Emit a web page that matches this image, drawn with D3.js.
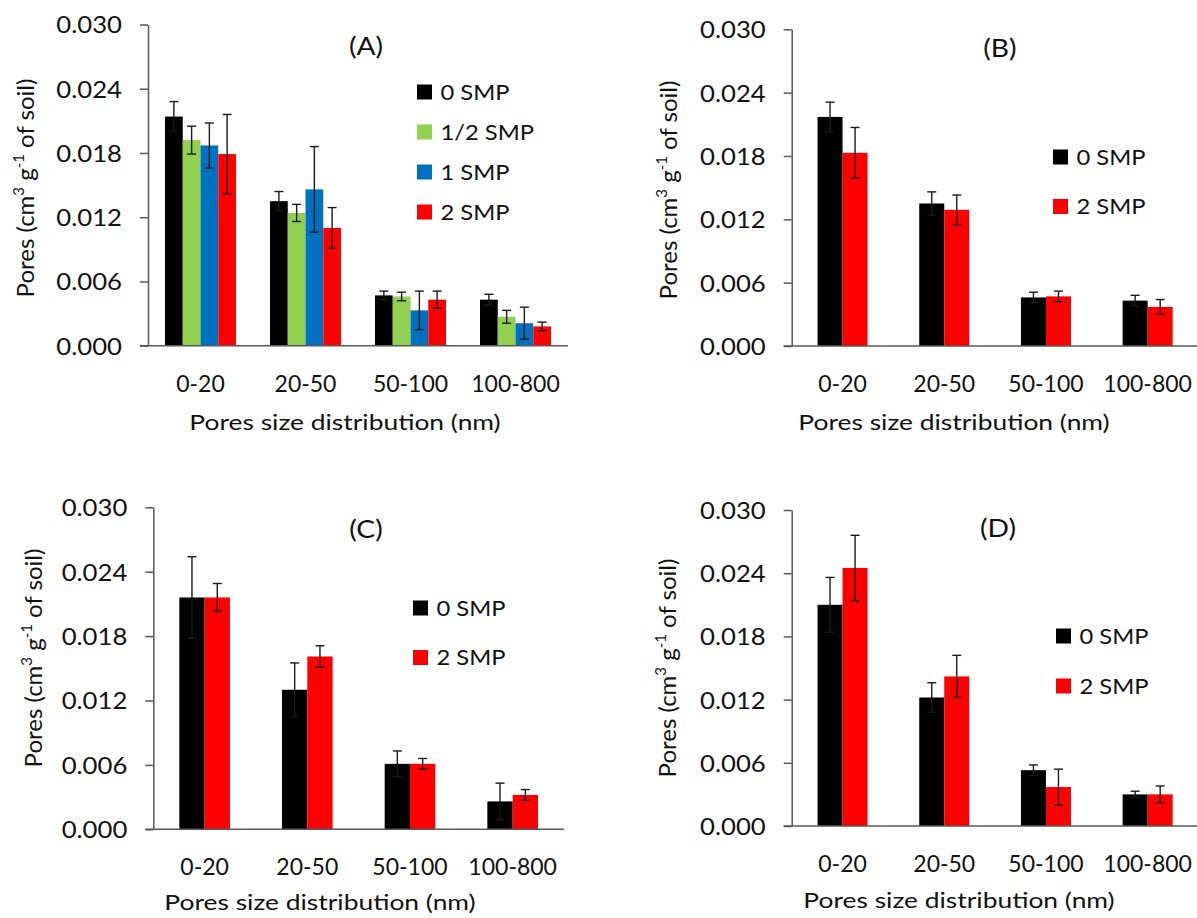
<!DOCTYPE html>
<html>
<head>
<meta charset="utf-8">
<script src="https://cdn.jsdelivr.net/npm/d3@7"></script>
<style>
  body { margin: 0; background: #fff; }
  svg text { font-family: Lato, "Open Sans", sans-serif; fill: #111; }
</style>
</head>
<body>
<svg id="chart" width="1197" height="918"></svg>
<script>
// categories and series
var categories = ["0-20", "20-50", "50-100", "100-800"];
var seriesFour = ["0 SMP", "1/2 SMP", "1 SMP", "2 SMP"];
var seriesTwo = ["0 SMP", "2 SMP"];
var seriesColors = ["#000000", "#92D050", "#0070C0", "#FF0000"];
var yTicks = [0, 0.006, 0.012, 0.018, 0.024, 0.030];

// (A) one row per series, one value per category
var valuesA = [
	[0.0214, 0.0135, 0.0047, 0.0043],
	[0.0192, 0.0124, 0.0046, 0.0027],
	[0.0187, 0.0146, 0.0033, 0.0021],
	[0.0179, 0.0110, 0.0043, 0.0018]
];
var errorsA = [
	[0.0014, 0.0009, 0.0004, 0.0005],
	[0.0013, 0.0008, 0.0004, 0.0006],
	[0.0021, 0.0040, 0.0018, 0.0015],
	[0.0037, 0.0019, 0.0008, 0.0004]
];

// (B)
var valuesB = [
	[0.0217, 0.0135, 0.0046, 0.0043],
	[0.0183, 0.0129, 0.0047, 0.0037]
];
var errorsB = [
	[0.0014, 0.0011, 0.0005, 0.0005],
	[0.0024, 0.0014, 0.0005, 0.0007]
];

// (C)
var valuesC = [
	[0.0216, 0.0130, 0.0061, 0.0026],
	[0.0216, 0.0161, 0.0061, 0.0032]
];
var errorsC = [
	[0.0038, 0.0025, 0.0012, 0.0017],
	[0.0013, 0.0010, 0.0005, 0.0005]
];

// (D)
var valuesD = [
	[0.0210, 0.0122, 0.0053, 0.0030],
	[0.0245, 0.0142, 0.0037, 0.0030]
];
var errorsD = [
	[0.0026, 0.0014, 0.0005, 0.0003],
	[0.0031, 0.0020, 0.0017, 0.0008]
];

// layout of each panel (pixels)
var panels = [
	{ label: "(A)", series: seriesFour, colors: seriesColors, values: valuesA, errors: errorsA,
		left: 148, right: 568, top: 24.5, bottom: 345.7, pad: 0.324,
		titleX: 366, titleY: 46, legX: 417, legRows: [92, 132, 172, 212],
		xTitleX: 345, xTitleY: 430, yTitleX: 26, yTitleY: 188 },
	{ label: "(B)", series: seriesTwo, colors: ["#000000", "#FF0000"], values: valuesB, errors: errorsB,
		left: 791.7, right: 1198.5, top: 29.3, bottom: 346, pad: 0.508,
		titleX: 1000, titleY: 48, legX: 1053, legRows: [157, 206.5],
		xTitleX: 954, xTitleY: 430, yTitleX: 669, yTitleY: 190 },
	{ label: "(C)", series: seriesTwo, colors: ["#000000", "#FF0000"], values: valuesC, errors: errorsC,
		left: 153.3, right: 564, top: 507.3, bottom: 829.3, pad: 0.507,
		titleX: 366, titleY: 529, legX: 413, legRows: [608, 657.5],
		xTitleX: 320, xTitleY: 910, yTitleX: 33.5, yTitleY: 658 },
	{ label: "(D)", series: seriesTwo, colors: ["#000000", "#FF0000"], values: valuesD, errors: errorsD,
		left: 791.7, right: 1198.5, top: 510, bottom: 826, pad: 0.508,
		titleX: 998, titleY: 528, legX: 1056, legRows: [636, 686],
		xTitleX: 959, xTitleY: 908, yTitleX: 668, yTitleY: 668 }
];

var svg = d3.select("#chart");
var axisColor = "#595959";

// text is a little wider in the source figure, so some labels are scaled sideways
function place(sel, x, y, sx){
	return sel.attr("transform", "translate(" + x + "," + y + ") scale(" + sx + ",1)");
}

function drawPanel(p){
	var g = svg.append("g").attr("class", "panel");

	var x = d3.scaleBand()
		.domain(categories)
		.range([p.left, p.right])
		.paddingInner(p.pad)
		.paddingOuter(p.pad / 2);
	var xs = d3.scaleBand()
		.domain(p.series)
		.range([0, x.bandwidth()]);
	var y = d3.scaleLinear()
		.domain([0, 0.030])
		.range([p.bottom, p.top]);

	// bars
	p.series.forEach(function(s, si){
		var rows = categories.map(function(c, ci){
			return { cat: c, v: p.values[si][ci], e: p.errors[si][ci] };
		});
		var sg = g.append("g");
		sg.selectAll("rect")
			.data(rows)
			.join("rect")
			.attr("x", d => x(d.cat) + xs(s))
			.attr("y", d => y(d.v))
			.attr("width", xs.bandwidth())
			.attr("height", d => y(0) - y(d.v))
			.attr("fill", p.colors[si]);

		// error bars
		var cap = 4.5;
		var mid = d => x(d.cat) + xs(s) + xs.bandwidth() / 2;
		var eb = sg.selectAll("g.err")
			.data(rows)
			.join("g")
			.attr("class", "err")
			.attr("stroke", "#1a1a1a")
			.attr("stroke-width", 1.4);
		eb.append("line")
			.attr("x1", mid)
			.attr("x2", mid)
			.attr("y1", d => y(d.v + d.e))
			.attr("y2", d => y(Math.max(0, d.v - d.e)));
		eb.append("line")
			.attr("x1", d => mid(d) - cap)
			.attr("x2", d => mid(d) + cap)
			.attr("y1", d => y(d.v + d.e))
			.attr("y2", d => y(d.v + d.e));
		eb.append("line")
			.attr("x1", d => mid(d) - cap)
			.attr("x2", d => mid(d) + cap)
			.attr("y1", d => y(Math.max(0, d.v - d.e)))
			.attr("y2", d => y(Math.max(0, d.v - d.e)));
	});

	// y axis
	var yAxis = g.append("g")
		.attr("transform", "translate(" + p.left + ",0)")
		.call(d3.axisLeft(y)
			.tickValues(yTicks)
			.tickFormat(d3.format(".3f"))
			.tickSize(8)
			.tickSizeOuter(0)
			.tickPadding(18));
	yAxis.attr("font-family", null).attr("font-size", null);
	yAxis.select(".domain").attr("stroke", axisColor).attr("stroke-width", 1.5);
	yAxis.selectAll(".tick line").attr("stroke", axisColor).attr("stroke-width", 1.5);
	yAxis.selectAll(".tick text")
		.attr("fill", null)
		.attr("x", null)
		.attr("dy", "0.35em")
		.style("font-size", "24px")
		.attr("transform", "translate(-26,0) scale(1.07,1)");

	// x axis line
	g.append("line")
		.attr("x1", p.left - 8)
		.attr("x2", p.right)
		.attr("y1", y(0))
		.attr("y2", y(0))
		.attr("stroke", axisColor)
		.attr("stroke-width", 1.5);

	// category labels
	g.selectAll("text.cat")
		.data(categories)
		.join("text")
		.attr("class", "cat")
		.attr("x", d => x(d) + x.bandwidth() / 2)
		.attr("y", p.bottom + 46)
		.attr("text-anchor", "middle")
		.style("font-size", "23px")
		.text(d => d);

	// axis titles
	place(g.append("text"), p.xTitleX, p.xTitleY, 1.2)
		.attr("text-anchor", "middle")
		.style("font-size", "22px")
		.text("Pores size distribution (nm)");

	var yt = g.append("text")
		.attr("transform", "translate(" + p.yTitleX + "," + p.yTitleY + ") rotate(-90)")
		.attr("text-anchor", "middle")
		.attr("dy", "0.35em")
		.style("font-size", "24px");
	yt.append("tspan").text("Pores (cm");
	yt.append("tspan").attr("dy", -10).style("font-size", "15px").text("3");
	yt.append("tspan").attr("dy", 10).text(" g");
	yt.append("tspan").attr("dy", -10).style("font-size", "15px").text("-1");
	yt.append("tspan").attr("dy", 10).text(" of soil)");

	// panel label
	place(g.append("text"), p.titleX, p.titleY, 1.13)
		.attr("dy", "0.35em")
		.attr("text-anchor", "middle")
		.style("font-size", "25px")
		.text(p.label);

	// legend
	var leg = g.selectAll("g.legend")
		.data(p.series)
		.join("g")
		.attr("class", "legend")
		.attr("transform", (d, i) => "translate(" + p.legX + "," + p.legRows[i] + ")");
	leg.append("rect")
		.attr("x", 0)
		.attr("y", -7.5)
		.attr("width", 15)
		.attr("height", 15)
		.attr("fill", (d, i) => p.colors[i]);
	leg.append("text")
		.attr("transform", "translate(23.5,0) scale(1.08,1)")
		.attr("dy", "0.35em")
		.style("font-size", "22px")
		.text(d => d);
}

panels.forEach(drawPanel);
</script>
</body>
</html>
